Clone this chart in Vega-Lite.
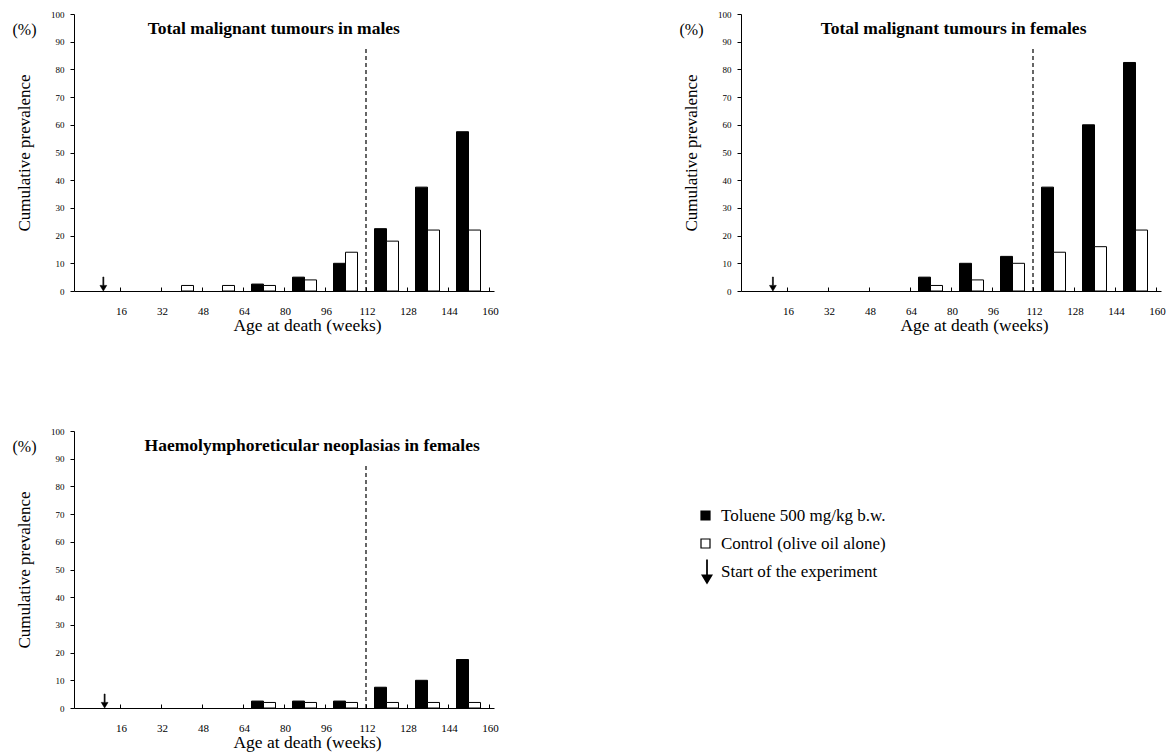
{
  "$schema": "https://vega.github.io/schema/vega-lite/v6.json",
  "padding": {"left": 12, "top": 10, "right": 0, "bottom": 5},
  "background": "white",
  "data": {"values": [
    {"panel": "males", "group": "Toluene 500 mg/kg b.w.", "age_mid": 72, "value": 2.5},
    {"panel": "males", "group": "Toluene 500 mg/kg b.w.", "age_mid": 88, "value": 5},
    {"panel": "males", "group": "Toluene 500 mg/kg b.w.", "age_mid": 104, "value": 10},
    {"panel": "males", "group": "Toluene 500 mg/kg b.w.", "age_mid": 120, "value": 22.5},
    {"panel": "males", "group": "Toluene 500 mg/kg b.w.", "age_mid": 136, "value": 37.5},
    {"panel": "males", "group": "Toluene 500 mg/kg b.w.", "age_mid": 152, "value": 57.5},
    {"panel": "males", "group": "Control (olive oil alone)", "age_mid": 40, "value": 2},
    {"panel": "males", "group": "Control (olive oil alone)", "age_mid": 56, "value": 2},
    {"panel": "males", "group": "Control (olive oil alone)", "age_mid": 72, "value": 2},
    {"panel": "males", "group": "Control (olive oil alone)", "age_mid": 88, "value": 4},
    {"panel": "males", "group": "Control (olive oil alone)", "age_mid": 104, "value": 14},
    {"panel": "males", "group": "Control (olive oil alone)", "age_mid": 120, "value": 18},
    {"panel": "males", "group": "Control (olive oil alone)", "age_mid": 136, "value": 22},
    {"panel": "males", "group": "Control (olive oil alone)", "age_mid": 152, "value": 22},
    {"panel": "females", "group": "Toluene 500 mg/kg b.w.", "age_mid": 72, "value": 5},
    {"panel": "females", "group": "Toluene 500 mg/kg b.w.", "age_mid": 88, "value": 10},
    {"panel": "females", "group": "Toluene 500 mg/kg b.w.", "age_mid": 104, "value": 12.5},
    {"panel": "females", "group": "Toluene 500 mg/kg b.w.", "age_mid": 120, "value": 37.5},
    {"panel": "females", "group": "Toluene 500 mg/kg b.w.", "age_mid": 136, "value": 60},
    {"panel": "females", "group": "Toluene 500 mg/kg b.w.", "age_mid": 152, "value": 82.5},
    {"panel": "females", "group": "Control (olive oil alone)", "age_mid": 72, "value": 2},
    {"panel": "females", "group": "Control (olive oil alone)", "age_mid": 88, "value": 4},
    {"panel": "females", "group": "Control (olive oil alone)", "age_mid": 104, "value": 10},
    {"panel": "females", "group": "Control (olive oil alone)", "age_mid": 120, "value": 14},
    {"panel": "females", "group": "Control (olive oil alone)", "age_mid": 136, "value": 16},
    {"panel": "females", "group": "Control (olive oil alone)", "age_mid": 152, "value": 22},
    {"panel": "haemo", "group": "Toluene 500 mg/kg b.w.", "age_mid": 72, "value": 2.5},
    {"panel": "haemo", "group": "Toluene 500 mg/kg b.w.", "age_mid": 88, "value": 2.5},
    {"panel": "haemo", "group": "Toluene 500 mg/kg b.w.", "age_mid": 104, "value": 2.5},
    {"panel": "haemo", "group": "Toluene 500 mg/kg b.w.", "age_mid": 120, "value": 7.5},
    {"panel": "haemo", "group": "Toluene 500 mg/kg b.w.", "age_mid": 136, "value": 10},
    {"panel": "haemo", "group": "Toluene 500 mg/kg b.w.", "age_mid": 152, "value": 17.5},
    {"panel": "haemo", "group": "Control (olive oil alone)", "age_mid": 72, "value": 2},
    {"panel": "haemo", "group": "Control (olive oil alone)", "age_mid": 88, "value": 2},
    {"panel": "haemo", "group": "Control (olive oil alone)", "age_mid": 104, "value": 2},
    {"panel": "haemo", "group": "Control (olive oil alone)", "age_mid": 120, "value": 2},
    {"panel": "haemo", "group": "Control (olive oil alone)", "age_mid": 136, "value": 2},
    {"panel": "haemo", "group": "Control (olive oil alone)", "age_mid": 152, "value": 2}
  ]},
  "columns": 2,
  "spacing": {"column": 180, "row": 93},
  "concat": [
    {
      "width": 420, "height": 277,
      "title": {"text": "(%)", "anchor": "start", "frame": "bounds", "fontSize": 16, "fontWeight": "normal", "font": "Liberation Serif", "dy": 32, "dx": -3},
      "layer": [
        {
          "transform": [{"filter": "datum.panel === 'males' && datum.group === 'Toluene 500 mg/kg b.w.'"}],
          "mark": {"type": "bar", "width": 12, "xOffset": -6, "stroke": "black", "strokeWidth": 1},
          "encoding": {
            "x": {"field": "age_mid", "type": "quantitative", "scale": {"domain": [0, 160], "nice": false}, "axis": {"values": [16, 32, 48, 64, 80, 96, 112, 128, 144, 160], "title": "Age at death (weeks)", "labelOverlap": false}},
            "y": {"field": "value", "type": "quantitative", "scale": {"domain": [0, 100], "nice": false}, "axis": {"values": [0, 10, 20, 30, 40, 50, 60, 70, 80, 90, 100], "title": "Cumulative prevalence", "labelOverlap": false}},
            "fill": {"field": "group", "type": "nominal", "scale": {"domain": ["Toluene 500 mg/kg b.w.", "Control (olive oil alone)"], "range": ["black", "white"]}, "legend": {"title": null, "orient": "none", "legendX": 623, "legendY": 493, "symbolType": "square", "symbolSize": 81, "symbolStrokeColor": "black", "symbolStrokeWidth": 1.2, "labelFontSize": 17, "labelFont": "Liberation Serif", "labelColor": "black", "labelLimit": 400, "rowPadding": 10, "labelOffset": 7, "padding": 0}}
          }
        },
        {
          "transform": [{"filter": "datum.panel === 'males' && datum.group === 'Control (olive oil alone)'"}],
          "mark": {"type": "bar", "width": 12, "xOffset": 6, "stroke": "black", "strokeWidth": 1},
          "encoding": {
            "x": {"field": "age_mid", "type": "quantitative", "axis": {"values": [16, 32, 48, 64, 80, 96, 112, 128, 144, 160], "title": "Age at death (weeks)", "labelOverlap": false}},
            "y": {"field": "value", "type": "quantitative", "axis": {"values": [0, 10, 20, 30, 40, 50, 60, 70, 80, 90, 100], "title": "Cumulative prevalence", "labelOverlap": false}},
            "fill": {"field": "group", "type": "nominal"}
          }
        },
        {
          "data": {"values": [{"week": 112}]},
          "mark": {"type": "rule", "strokeDash": [4, 3], "color": "black", "strokeWidth": 1.2},
          "encoding": {
            "x": {"field": "week", "type": "quantitative", "axis": {"values": [16, 32, 48, 64, 80, 96, 112, 128, 144, 160], "title": "Age at death (weeks)", "labelOverlap": false}},
            "y": {"datum": 0, "axis": {"values": [0, 10, 20, 30, 40, 50, 60, 70, 80, 90, 100], "title": "Cumulative prevalence", "labelOverlap": false}},
            "y2": {"datum": 88}
          }
        },
        {
          "data": {"values": [{"marker": "Start of the experiment", "week": 9.5}]},
          "mark": {"type": "point", "filled": true, "fill": "black", "stroke": "black", "strokeWidth": 0.6, "size": 196, "yOffset": -7, "opacity": 1},
          "encoding": {
            "x": {"field": "week", "type": "quantitative", "axis": {"values": [16, 32, 48, 64, 80, 96, 112, 128, 144, 160], "title": "Age at death (weeks)", "labelOverlap": false}},
            "y": {"datum": 0, "axis": {"values": [0, 10, 20, 30, 40, 50, 60, 70, 80, 90, 100], "title": "Cumulative prevalence", "labelOverlap": false}},
            "shape": {"field": "marker", "type": "nominal", "scale": {"range": ["M-0.07,-1L0.07,-1L0.07,0.2L0.48,0.2L0,1L-0.48,0.2L-0.07,0.2Z"]}, "legend": {"title": null, "orient": "none", "legendX": 620, "legendY": 545, "symbolSize": 625, "symbolFillColor": "black", "symbolStrokeColor": "black", "symbolStrokeWidth": 0.5, "labelFontSize": 17, "labelFont": "Liberation Serif", "labelColor": "black", "labelLimit": 400, "labelOffset": 1, "padding": 0}}
          }
        },
        {
          "data": {"values": [{"heading": "Total malignant tumours in males", "week": 76}]},
          "mark": {"type": "text", "fontWeight": "bold", "fontSize": 17.5, "font": "Liberation Serif", "baseline": "middle", "align": "center", "color": "black"},
          "encoding": {
            "x": {"field": "week", "type": "quantitative", "axis": {"values": [16, 32, 48, 64, 80, 96, 112, 128, 144, 160], "title": "Age at death (weeks)", "labelOverlap": false}},
            "y": {"datum": 94.5, "axis": {"values": [0, 10, 20, 30, 40, 50, 60, 70, 80, 90, 100], "title": "Cumulative prevalence", "labelOverlap": false}},
            "text": {"field": "heading"}
          }
        }
      ]
    },
    {
      "width": 420, "height": 277,
      "title": {"text": "(%)", "anchor": "start", "frame": "bounds", "fontSize": 16, "fontWeight": "normal", "font": "Liberation Serif", "dy": 32, "dx": -3},
      "layer": [
        {
          "transform": [{"filter": "datum.panel === 'females' && datum.group === 'Toluene 500 mg/kg b.w.'"}],
          "mark": {"type": "bar", "width": 12, "xOffset": -6, "stroke": "black", "strokeWidth": 1},
          "encoding": {
            "x": {"field": "age_mid", "type": "quantitative", "scale": {"domain": [0, 160], "nice": false}, "axis": {"values": [16, 32, 48, 64, 80, 96, 112, 128, 144, 160], "title": "Age at death (weeks)", "labelOverlap": false}},
            "y": {"field": "value", "type": "quantitative", "scale": {"domain": [0, 100], "nice": false}, "axis": {"values": [0, 10, 20, 30, 40, 50, 60, 70, 80, 90, 100], "title": "Cumulative prevalence", "labelOverlap": false}},
            "fill": {"field": "group", "type": "nominal"}
          }
        },
        {
          "transform": [{"filter": "datum.panel === 'females' && datum.group === 'Control (olive oil alone)'"}],
          "mark": {"type": "bar", "width": 12, "xOffset": 6, "stroke": "black", "strokeWidth": 1},
          "encoding": {
            "x": {"field": "age_mid", "type": "quantitative", "axis": {"values": [16, 32, 48, 64, 80, 96, 112, 128, 144, 160], "title": "Age at death (weeks)", "labelOverlap": false}},
            "y": {"field": "value", "type": "quantitative", "axis": {"values": [0, 10, 20, 30, 40, 50, 60, 70, 80, 90, 100], "title": "Cumulative prevalence", "labelOverlap": false}},
            "fill": {"field": "group", "type": "nominal"}
          }
        },
        {
          "data": {"values": [{"week": 112}]},
          "mark": {"type": "rule", "strokeDash": [4, 3], "color": "black", "strokeWidth": 1.2},
          "encoding": {
            "x": {"field": "week", "type": "quantitative", "axis": {"values": [16, 32, 48, 64, 80, 96, 112, 128, 144, 160], "title": "Age at death (weeks)", "labelOverlap": false}},
            "y": {"datum": 0, "axis": {"values": [0, 10, 20, 30, 40, 50, 60, 70, 80, 90, 100], "title": "Cumulative prevalence", "labelOverlap": false}},
            "y2": {"datum": 88}
          }
        },
        {
          "data": {"values": [{"marker": "Start of the experiment", "week": 10.5}]},
          "mark": {"type": "point", "filled": true, "fill": "black", "stroke": "black", "strokeWidth": 0.6, "size": 196, "yOffset": -7, "opacity": 1},
          "encoding": {
            "x": {"field": "week", "type": "quantitative", "axis": {"values": [16, 32, 48, 64, 80, 96, 112, 128, 144, 160], "title": "Age at death (weeks)", "labelOverlap": false}},
            "y": {"datum": 0, "axis": {"values": [0, 10, 20, 30, 40, 50, 60, 70, 80, 90, 100], "title": "Cumulative prevalence", "labelOverlap": false}},
            "shape": {"field": "marker", "type": "nominal"}
          }
        },
        {
          "data": {"values": [{"heading": "Total malignant tumours in females", "week": 81}]},
          "mark": {"type": "text", "fontWeight": "bold", "fontSize": 17.5, "font": "Liberation Serif", "baseline": "middle", "align": "center", "color": "black"},
          "encoding": {
            "x": {"field": "week", "type": "quantitative", "axis": {"values": [16, 32, 48, 64, 80, 96, 112, 128, 144, 160], "title": "Age at death (weeks)", "labelOverlap": false}},
            "y": {"datum": 94.5, "axis": {"values": [0, 10, 20, 30, 40, 50, 60, 70, 80, 90, 100], "title": "Cumulative prevalence", "labelOverlap": false}},
            "text": {"field": "heading"}
          }
        }
      ]
    },
    {
      "width": 420, "height": 277,
      "title": {"text": "(%)", "anchor": "start", "frame": "bounds", "fontSize": 16, "fontWeight": "normal", "font": "Liberation Serif", "dy": 32, "dx": -3},
      "layer": [
        {
          "transform": [{"filter": "datum.panel === 'haemo' && datum.group === 'Toluene 500 mg/kg b.w.'"}],
          "mark": {"type": "bar", "width": 12, "xOffset": -6, "stroke": "black", "strokeWidth": 1},
          "encoding": {
            "x": {"field": "age_mid", "type": "quantitative", "scale": {"domain": [0, 160], "nice": false}, "axis": {"values": [16, 32, 48, 64, 80, 96, 112, 128, 144, 160], "title": "Age at death (weeks)", "labelOverlap": false}},
            "y": {"field": "value", "type": "quantitative", "scale": {"domain": [0, 100], "nice": false}, "axis": {"values": [0, 10, 20, 30, 40, 50, 60, 70, 80, 90, 100], "title": "Cumulative prevalence", "labelOverlap": false}},
            "fill": {"field": "group", "type": "nominal"}
          }
        },
        {
          "transform": [{"filter": "datum.panel === 'haemo' && datum.group === 'Control (olive oil alone)'"}],
          "mark": {"type": "bar", "width": 12, "xOffset": 6, "stroke": "black", "strokeWidth": 1},
          "encoding": {
            "x": {"field": "age_mid", "type": "quantitative", "axis": {"values": [16, 32, 48, 64, 80, 96, 112, 128, 144, 160], "title": "Age at death (weeks)", "labelOverlap": false}},
            "y": {"field": "value", "type": "quantitative", "axis": {"values": [0, 10, 20, 30, 40, 50, 60, 70, 80, 90, 100], "title": "Cumulative prevalence", "labelOverlap": false}},
            "fill": {"field": "group", "type": "nominal"}
          }
        },
        {
          "data": {"values": [{"week": 112}]},
          "mark": {"type": "rule", "strokeDash": [4, 3], "color": "black", "strokeWidth": 1.2},
          "encoding": {
            "x": {"field": "week", "type": "quantitative", "axis": {"values": [16, 32, 48, 64, 80, 96, 112, 128, 144, 160], "title": "Age at death (weeks)", "labelOverlap": false}},
            "y": {"datum": 0, "axis": {"values": [0, 10, 20, 30, 40, 50, 60, 70, 80, 90, 100], "title": "Cumulative prevalence", "labelOverlap": false}},
            "y2": {"datum": 88}
          }
        },
        {
          "data": {"values": [{"marker": "Start of the experiment", "week": 10}]},
          "mark": {"type": "point", "filled": true, "fill": "black", "stroke": "black", "strokeWidth": 0.6, "size": 196, "yOffset": -7, "opacity": 1},
          "encoding": {
            "x": {"field": "week", "type": "quantitative", "axis": {"values": [16, 32, 48, 64, 80, 96, 112, 128, 144, 160], "title": "Age at death (weeks)", "labelOverlap": false}},
            "y": {"datum": 0, "axis": {"values": [0, 10, 20, 30, 40, 50, 60, 70, 80, 90, 100], "title": "Cumulative prevalence", "labelOverlap": false}},
            "shape": {"field": "marker", "type": "nominal"}
          }
        },
        {
          "data": {"values": [{"heading": "Haemolymphoreticular neoplasias in females", "week": 91}]},
          "mark": {"type": "text", "fontWeight": "bold", "fontSize": 17.5, "font": "Liberation Serif", "baseline": "middle", "align": "center", "color": "black"},
          "encoding": {
            "x": {"field": "week", "type": "quantitative", "axis": {"values": [16, 32, 48, 64, 80, 96, 112, 128, 144, 160], "title": "Age at death (weeks)", "labelOverlap": false}},
            "y": {"datum": 94.5, "axis": {"values": [0, 10, 20, 30, 40, 50, 60, 70, 80, 90, 100], "title": "Cumulative prevalence", "labelOverlap": false}},
            "text": {"field": "heading"}
          }
        }
      ]
    }
  ],
  "resolve": {"scale": {"x": "independent", "y": "independent"}},
  "config": {
    "view": {"stroke": null},
    "font": "Liberation Serif",
    "legend": {"labelFont": "Liberation Serif", "labelFontSize": 17, "labelColor": "black", "labelLimit": 400},
    "axisX": {"grid": false, "domainColor": "black", "tickColor": "black", "tickSize": -4, "labelFontSize": 11, "labelColor": "black", "labelFont": "Liberation Serif", "labelPadding": 18, "labelOffset": 1, "labelFlush": false, "labelOverlap": false, "titleFontSize": 17.5, "titleFont": "Liberation Serif", "titleFontWeight": "normal", "titleColor": "black", "titlePadding": 0, "titleX": 233},
    "axisY": {"grid": false, "domainColor": "black", "tickColor": "black", "tickSize": 4, "labelFontSize": 9, "labelColor": "black", "labelFont": "Liberation Serif", "labelPadding": 6, "labelOverlap": false, "titleFontSize": 17, "titleFont": "Liberation Serif", "titleFontWeight": "normal", "titleColor": "black", "titlePadding": 17}
  }
}
